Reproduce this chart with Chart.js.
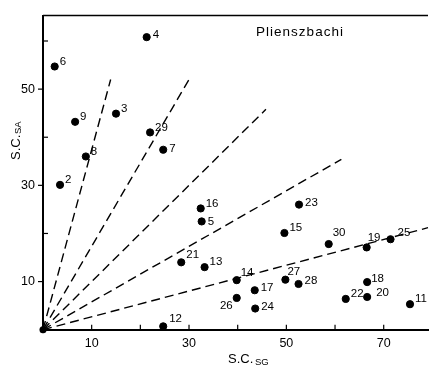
<!DOCTYPE html>
<html>
<head>
<meta charset="utf-8">
<script src="https://cdn.jsdelivr.net/npm/chart.js@4.4.1/dist/chart.umd.min.js"></script>
<style>
  html, body { margin: 0; padding: 0; background: #fff; }
</style>
</head>
<body>
<canvas id="chart" width="433" height="369"></canvas>
<script>
// Номера образцов и значения S.C.SG / S.C.SA
const sampleIds = ['2', '3', '4', '5', '6', '7', '8', '9', '11', '12', '13', '14', '15', '16', '17',
                   '18', '19', '20', '21', '22', '23', '24', '25', '26', '27', '28', '29', '30'];
const scSG = [3.5, 15.0, 21.3, 32.6, 2.4, 24.7, 8.8, 6.6, 75.4, 24.7, 33.2, 39.8, 49.6, 32.4, 43.5,
              66.6, 66.5, 66.6, 28.4, 62.2, 52.6, 43.6, 71.4, 39.8, 49.8, 52.5, 22.0, 58.7];
const scSA = [30.1, 44.9, 60.8, 22.5, 54.7, 37.4, 36.0, 43.2, 5.3, 0.7, 13.0, 10.3, 20.1, 25.2, 8.2,
              9.9, 17.1, 6.8, 14.0, 6.4, 26.0, 4.4, 18.8, 6.6, 10.4, 9.5, 41.0, 17.8];

// Штриховые лучи из начала координат (конечные точки)
const rayEndX = [13.9, 30.0, 45.8, 61.3, 79.1];
const rayEndY = [52.0, 52.0, 45.8, 35.4, 21.2];

// Деления осей
const xTicks = [10, 20, 30, 40, 50, 60, 70];
const yTicks = [10, 20, 30, 40, 50, 60];
const labeledTicks = [10, 30, 50, 70];

// Смещения подписей точек (по умолчанию вправо-вверх)
const labelShift = {
  '26': [-4, 8, 'right'], '5': [6, 0], '23': [6, -2], '17': [6, -2], '24': [6, -2],
  '7': [6, -1], '28': [6, -3], '18': [4, -3], '4': [6, -2], '30': [4, -11], '19': [1, -10],
  '20': [9, -4], '25': [7, -6], '14': [4, -7], '27': [2, -8], '12': [6, -8], '21': [5, -8]
};

const fontFamily = '"Liberation Sans", Arial, sans-serif';

const rayDatasets = rayEndX.map((x, i) => ({
  type: 'line',
  data: [{ x: 0, y: 0 }, { x: x, y: rayEndY[i] }],
  borderColor: '#000',
  borderWidth: 1.4,
  borderDash: [9, 5],
  pointRadius: 0,
  fill: false,
  clip: false
}));

const overlay = {
  id: 'overlay',
  afterDatasetsDraw(chart) {
    const ctx = chart.ctx;
    const xs = chart.scales.x, ys = chart.scales.y;
    const area = chart.chartArea;
    ctx.save();
    ctx.strokeStyle = '#000';
    ctx.fillStyle = '#000';

    // верхняя рамка
    ctx.lineWidth = 1.5;
    ctx.beginPath();
    ctx.moveTo(area.left, area.top);
    ctx.lineTo(area.right, area.top);
    ctx.stroke();

    // деления внутрь
    ctx.lineWidth = 1.2;
    xTicks.forEach(v => {
      const px = xs.getPixelForValue(v);
      ctx.beginPath();
      ctx.moveTo(px, area.bottom);
      ctx.lineTo(px, area.bottom - 5);
      ctx.stroke();
    });
    yTicks.forEach(v => {
      const py = ys.getPixelForValue(v);
      ctx.beginPath();
      if (labeledTicks.includes(v)) {
        ctx.moveTo(area.left - 5, py);
        ctx.lineTo(area.left, py);
      } else {
        ctx.moveTo(area.left, py);
        ctx.lineTo(area.left + 5, py);
      }
      ctx.stroke();
    });

    // подписи точек
    ctx.font = '11.5px ' + fontFamily;
    ctx.textBaseline = 'middle';
    sampleIds.forEach((id, i) => {
      const px = xs.getPixelForValue(scSG[i]);
      const py = ys.getPixelForValue(scSA[i]);
      const s = labelShift[id] || [5, -5];
      ctx.textAlign = s[2] || 'left';
      ctx.fillText(id, px + s[0], py + s[1]);
    });

    // название
    ctx.font = '13.5px ' + fontFamily;
    ctx.letterSpacing = '1px';
    ctx.textAlign = 'center';
    ctx.fillText('Plienszbachi', 300, 32);
    ctx.letterSpacing = '0px';

    // подпись оси X: S.C.SG
    ctx.textAlign = 'left';
    ctx.textBaseline = 'alphabetic';
    ctx.font = '13px ' + fontFamily;
    ctx.fillText('S.C.', 228, 363);
    ctx.font = '9.5px ' + fontFamily;
    ctx.fillText('SG', 255, 365);

    // подпись оси Y: S.C.SA
    ctx.translate(20, 160);
    ctx.rotate(-Math.PI / 2);
    ctx.font = '13px ' + fontFamily;
    ctx.fillText('S.C.', 0, 0);
    ctx.font = '9.5px ' + fontFamily;
    ctx.fillText('SA', 26, 1);
    ctx.restore();
  }
};

new Chart(document.getElementById('chart').getContext('2d'), {
  type: 'scatter',
  data: {
    datasets: [
      {
        data: scSG.map((x, i) => ({ x: x, y: scSA[i] })),
        backgroundColor: '#000',
        borderColor: '#000',
        pointRadius: 3.6,
        pointHoverRadius: 3.6,
        clip: false
      },
      {
        data: [{ x: 0, y: 0 }],
        backgroundColor: '#000',
        pointRadius: 3.5,
        clip: false
      },
      ...rayDatasets
    ]
  },
  options: {
    responsive: false,
    animation: false,
    events: [],
    layout: { padding: { top: 5, right: 0, left: 0, bottom: 0 } },
    plugins: {
      legend: { display: false },
      tooltip: { enabled: false }
    },
    scales: {
      x: {
        type: 'linear',
        min: 0,
        max: 79.1,
        afterFit(scale) { scale.height = 39.3; },
        afterBuildTicks(axis) { axis.ticks = xTicks.map(v => ({ value: v })); },
        grid: { display: false, drawTicks: false },
        border: { display: true, color: '#000', width: 2 },
        ticks: {
          padding: 6,
          color: '#000',
          font: { family: fontFamily, size: 12.5 },
          maxRotation: 0,
          autoSkip: false,
          callback: v => labeledTicks.includes(v) ? String(v) : ''
        }
      },
      y: {
        type: 'linear',
        min: 0,
        max: 65.3,
        afterFit(scale) { scale.width = 43; },
        afterBuildTicks(axis) { axis.ticks = yTicks.map(v => ({ value: v })); },
        grid: { display: false, drawTicks: false },
        border: { display: true, color: '#000', width: 2 },
        ticks: {
          padding: 8,
          color: '#000',
          font: { family: fontFamily, size: 12.5 },
          autoSkip: false,
          callback: v => labeledTicks.includes(v) ? String(v) : ''
        }
      }
    }
  },
  plugins: [overlay]
});
</script>
</body>
</html>
